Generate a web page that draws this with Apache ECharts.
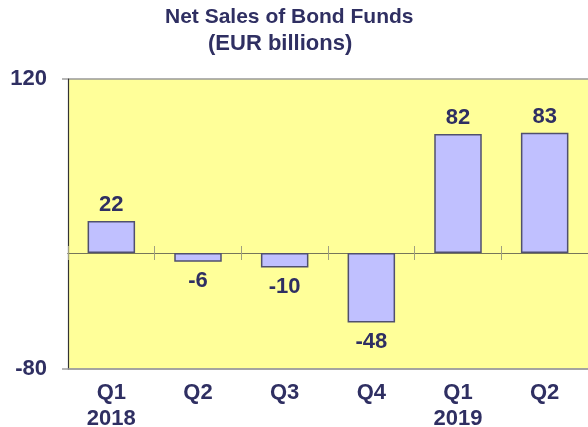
<!DOCTYPE html>
<html>
<head>
<meta charset="utf-8">
<script src="https://cdn.jsdelivr.net/npm/echarts@6/dist/echarts.min.js"></script>
<style>
html,body{margin:0;padding:0;background:#fff;}
#c{width:588px;height:427px;}
</style>
</head>
<body>
<div id="c"></div>
<script>
const titleLine1 = 'Net Sales of Bond Funds';
const titleLine2 = '(EUR billions)';
const quarters = ['Q1', 'Q2', 'Q3', 'Q4', 'Q1', 'Q2'];
const years = ['2018', '', '', '', '2019', ''];
const values = [22, -6, -10, -48, 82, 83];
const yMin = -80;
const yMax = 120;

const categories = quarters.map((q, i) => years[i] ? q + '\n' + years[i] : q);
const txt = '#2f2f62';
const font = 'Arial, "Liberation Sans", sans-serif';

const chart = echarts.init(document.getElementById('c'));
chart.setOption({
  animation: false,
  backgroundColor: '#ffffff',
  title: [
    { text: titleLine1, left: 165, top: 5, padding: 0,
      textStyle: { fontFamily: font, fontSize: 21, fontWeight: 'bold', color: txt, lineHeight: 24 } },
    { text: titleLine2, left: 208, top: 32, padding: 0,
      textStyle: { fontFamily: font, fontSize: 22, fontWeight: 'bold', color: txt, lineHeight: 24 } }
  ],
  grid: { left: 68, top: 79, width: 520, height: 290, show: true, backgroundColor: '#ffff99', borderWidth: 0,
          containLabel: false, outerBoundsMode: 'none' },
  xAxis: [
    { type: 'category', data: categories, position: 'bottom',
      axisLine: { onZero: false, lineStyle: { color: '#a0a0a0', width: 1.5 } },
      axisTick: { show: false },
      axisLabel: { fontFamily: font, fontSize: 22, fontWeight: 'bold', color: txt, lineHeight: 26, margin: 11 } },
    { type: 'category', data: categories, position: 'top',
      axisLine: { onZero: true, onZeroAxisIndex: 0, lineStyle: { color: '#76765a', width: 1.2 } },
      axisTick: { show: true, inside: false, length: 7, lineStyle: { color: '#a0a080', width: 1 } },
      axisLabel: { show: false } },
    { type: 'category', data: categories, position: 'top',
      axisLine: { onZero: true, onZeroAxisIndex: 0, lineStyle: { color: '#76765a', width: 1.2 } },
      axisTick: { show: true, inside: true, length: 7, lineStyle: { color: '#a0a080', width: 1 } },
      axisLabel: { show: false } }
  ],
  yAxis: {
    type: 'value', min: yMin, max: yMax, interval: yMax - yMin,
    axisLine: { show: true, lineStyle: { color: '#333333', width: 1.2 } },
    axisTick: { show: true, length: 6, lineStyle: { color: '#a0a0a0', width: 1.5 } },
    splitLine: { show: true, lineStyle: { color: '#999999', width: 1.5 } },
    axisLabel: { fontFamily: font, fontSize: 22, fontWeight: 'bold', color: txt, margin: 21 }
  },
  series: [{
    type: 'bar',
    xAxisIndex: 0,
    barWidth: 47.5,
    data: values.map(v => ({
      value: v,
      label: { position: v >= 0 ? 'top' : 'bottom', distance: v >= 0 ? 5 : 8 }
    })),
    itemStyle: { color: '#c0c0ff', borderColor: '#50506e', borderWidth: 1.5 },
    label: { show: true, fontFamily: font, fontSize: 22, fontWeight: 'bold', color: txt, lineHeight: 22 }
  }]
});
</script>
</body>
</html>
